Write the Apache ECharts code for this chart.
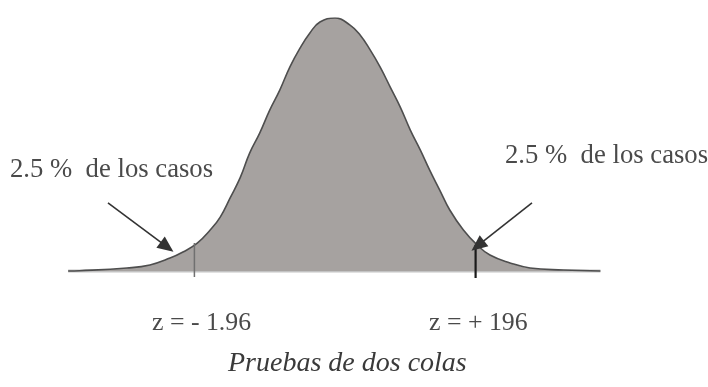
<!DOCTYPE html>
<html>
<head>
<meta charset="utf-8">
<script src="https://cdn.jsdelivr.net/npm/echarts@6/dist/echarts.min.js"></script>
<style>
  html, body { margin: 0; padding: 0; background: #fff; }
  #chart { width: 708px; height: 387px; }
</style>
</head>
<body>
<div id="chart"></div>
<script>
// Standard scores (z) along the horizontal axis
const zValues = [-3.72, -3.56, -2.90, -2.58, -2.30, -2.12, -1.92, -1.74, -1.60, -1.46, -1.32,
  -1.19, -1.05, -0.91, -0.77, -0.63, -0.49, -0.35, -0.21, 0.00, 0.21, 0.35, 0.49, 0.63, 0.77,
  0.91, 1.05, 1.19, 1.32, 1.46, 1.60, 1.79, 1.98, 2.16, 2.44, 2.72, 3.18, 3.70];
// Relative height of the bell curve (peak = 1)
const heights = [0.000, 0.001, 0.012, 0.024, 0.051, 0.075, 0.110, 0.162, 0.213, 0.290, 0.370,
  0.466, 0.545, 0.636, 0.715, 0.806, 0.880, 0.941, 0.984, 1.000, 0.972, 0.933, 0.874, 0.806,
  0.727, 0.648, 0.557, 0.478, 0.399, 0.320, 0.241, 0.162, 0.103, 0.063, 0.032, 0.012, 0.004, 0.000];
// Critical values of the two-tailed test and curve height there
const criticalZ = [-1.96, 1.96];
const criticalH = [0.111, 0.103];
const criticalLabels = ['z = - 1.96', 'z = + 196'];
const tailLabel = '2.5 %  de los casos';
const caption = 'Pruebas de dos colas';

const curve = zValues.map((z, i) => [z, heights[i]]);
const FONT = '"Liberation Serif", "DejaVu Serif", serif';

const chart = echarts.init(document.getElementById('chart'));
const option = {
  animation: false,
  backgroundColor: '#ffffff',
  grid: { left: 66, right: 104, top: 18, bottom: 103.35 },
  xAxis: { type: 'value', min: -3.75, max: 3.75, show: false },
  yAxis: { type: 'value', min: -0.05, max: 1, show: false },
  series: [
    {
      name: 'base',
      type: 'line',
      data: [[zValues[0], 0], [zValues[zValues.length - 1], 0]],
      showSymbol: false,
      lineStyle: { color: '#c3c3c3', width: 3 },
      z: 1
    },
    {
      name: 'curva',
      type: 'line',
      data: curve,
      smooth: 0.45,
      showSymbol: false,
      lineStyle: { color: '#4e4e4e', width: 1.6 },
      areaStyle: { color: '#a6a2a0', opacity: 1, origin: 'auto' },
      z: 2
    },
    {
      name: 'corte izq',
      type: 'line',
      data: [[criticalZ[0], criticalH[0]], [criticalZ[0], -0.024]],
      showSymbol: false,
      lineStyle: { color: '#707070', width: 1.5 },
      z: 3
    },
    {
      name: 'corte der',
      type: 'line',
      data: [[criticalZ[1], criticalH[1]], [criticalZ[1], -0.028]],
      showSymbol: false,
      lineStyle: { color: '#1a1a1a', width: 2.2 },
      z: 3,
      markLine: {
        silent: true,
        symbol: ['none', 'triangle'],
        symbolSize: [14, 16],
        lineStyle: { color: '#333333', width: 1.6, type: 'solid' },
        label: { show: false },
        data: [
          [{ coord: [-3.165, 0.269] }, { coord: [-2.342, 0.095] }],
          [{ coord: [2.746, 0.269] }, { coord: [1.99, 0.100] }]
        ]
      }
    }
  ],
  graphic: [
    { type: 'text', left: 10, top: 156,
      style: { text: tailLabel, font: '26.7px ' + FONT, fill: '#4a4a4a' } },
    { type: 'text', left: 505, top: 142,
      style: { text: tailLabel, font: '26.7px ' + FONT, fill: '#4a4a4a' } },
    { type: 'text', left: 152, top: 310,
      style: { text: criticalLabels[0], font: '25.8px ' + FONT, fill: '#4a4a4a' } },
    { type: 'text', left: 429, top: 310,
      style: { text: criticalLabels[1], font: '25.8px ' + FONT, fill: '#4a4a4a' } },
    { type: 'text', left: 228, top: 350,
      style: { text: caption, font: 'italic 28px ' + FONT, fill: '#3a3a3a' } }
  ]
};
chart.setOption(option);
</script>
</body>
</html>
